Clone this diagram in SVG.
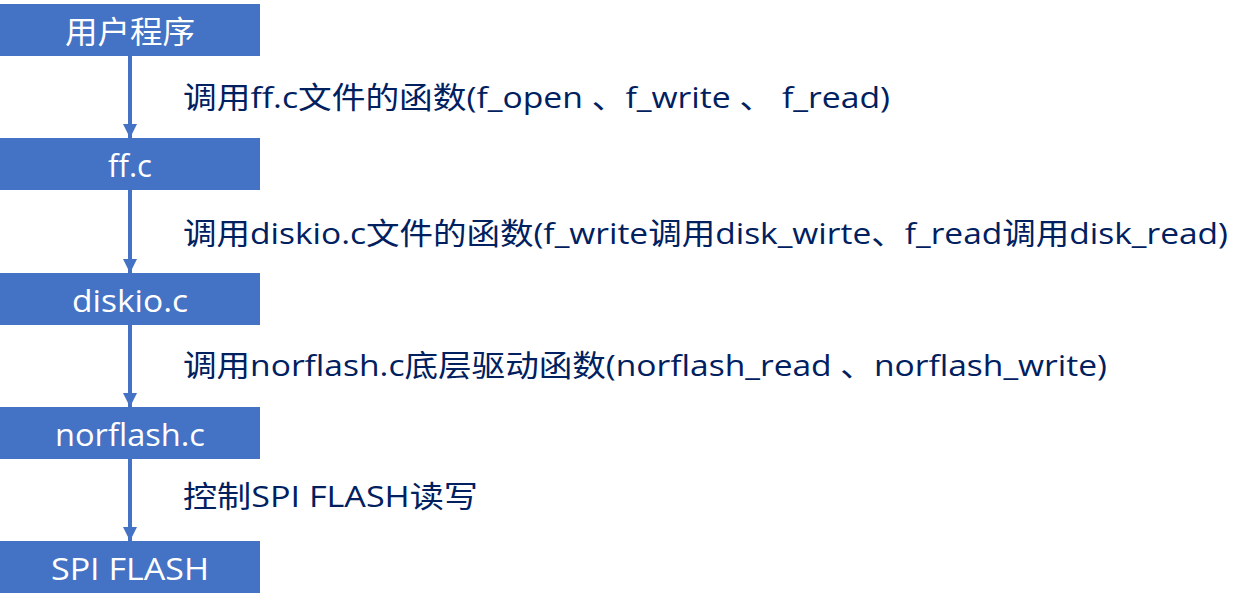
<svg xmlns="http://www.w3.org/2000/svg" width="1251" height="608" viewBox="0 0 1251 608">
<defs>
<style>
.box{fill:#4472C4;}
.bt{fill:#fff;font-family:"Open Sans","Noto Sans CJK SC",sans-serif;font-size:31px;text-anchor:middle;dominant-baseline:central;}
.lb{fill:#002060;font-family:"Open Sans","Noto Sans CJK SC",sans-serif;font-size:30px;dominant-baseline:central;}
.ln{stroke:#4472C4;stroke-width:4;fill:none;marker-end:url(#ah);}
</style>
<marker id="ah" viewBox="0 0 14 14" refX="14" refY="7" markerWidth="14" markerHeight="14" markerUnits="userSpaceOnUse" orient="auto">
<path d="M0,0 L14,7 L0,14 Z" fill="#4472C4"/>
</marker>
</defs>
<rect width="1251" height="608" fill="#fff"/>
<g id="connectors">
<line class="ln" x1="130" y1="56" x2="130" y2="138"/>
<line class="ln" x1="130" y1="190" x2="130" y2="273"/>
<line class="ln" x1="130" y1="325" x2="130" y2="407"/>
<line class="ln" x1="130" y1="459" x2="130" y2="541"/>
<text class="lb" x="183" y="96" textLength="707" lengthAdjust="spacingAndGlyphs">调用ff.c文件的函数(f_open 、f_write 、 f_read)</text>
<text class="lb" x="183" y="232" textLength="1045" lengthAdjust="spacingAndGlyphs">调用diskio.c文件的函数(f_write调用disk_wirte、f_read调用disk_read)</text>
<text class="lb" x="183" y="364" textLength="924" lengthAdjust="spacingAndGlyphs">调用norflash.c底层驱动函数(norflash_read 、norflash_write)</text>
<text class="lb" x="183" y="495" textLength="295" lengthAdjust="spacingAndGlyphs">控制SPI FLASH读写</text>
</g>
<g id="n1"><rect class="box" x="0" y="4" width="260" height="52"/><text class="bt" x="130" y="31" textLength="130" lengthAdjust="spacingAndGlyphs">用户程序</text></g>
<g id="n2"><rect class="box" x="0" y="138" width="260" height="52"/><text class="bt" x="130" y="165" textLength="44" lengthAdjust="spacingAndGlyphs">ff.c</text></g>
<g id="n3"><rect class="box" x="0" y="273" width="260" height="52"/><text class="bt" x="130" y="300" textLength="116" lengthAdjust="spacingAndGlyphs">diskio.c</text></g>
<g id="n4"><rect class="box" x="0" y="407" width="260" height="52"/><text class="bt" x="130" y="434" textLength="150" lengthAdjust="spacingAndGlyphs">norflash.c</text></g>
<g id="n5"><rect class="box" x="0" y="541" width="260" height="52"/><text class="bt" x="130" y="568" textLength="158" lengthAdjust="spacingAndGlyphs">SPI FLASH</text></g>
</svg>
